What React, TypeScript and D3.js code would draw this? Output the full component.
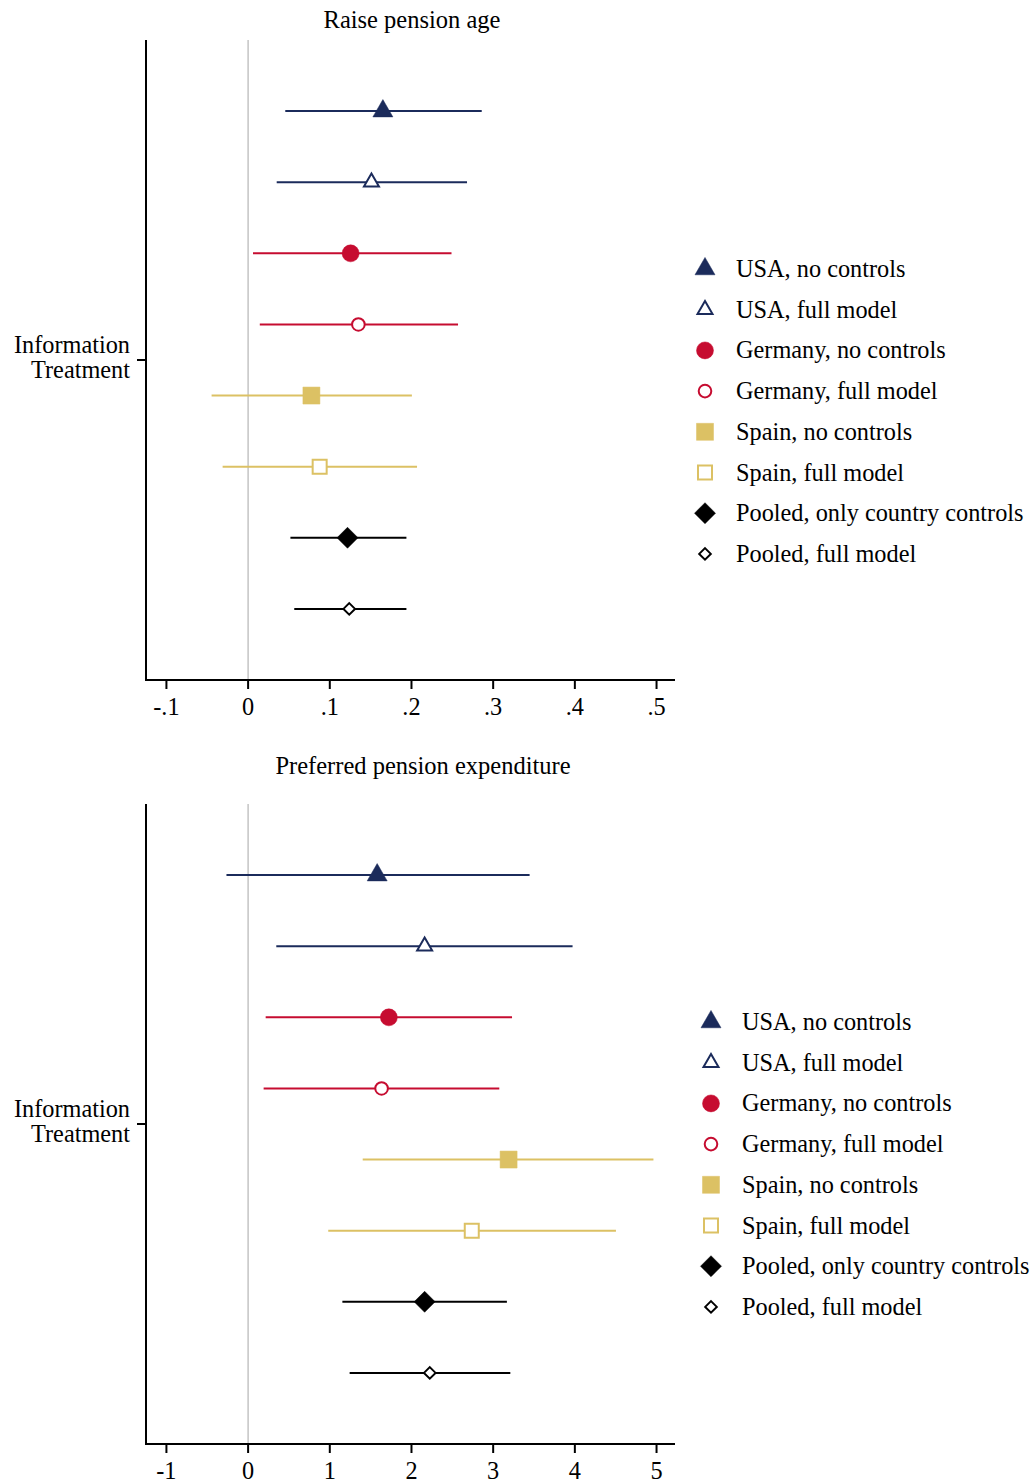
import React from "react";
import * as d3 from "d3";

const models = [
  "USA, no controls",
  "USA, full model",
  "Germany, no controls",
  "Germany, full model",
  "Spain, no controls",
  "Spain, full model",
  "Pooled, only country controls",
  "Pooled, full model",
];
const shapes = ["triangle", "triangle", "circle", "circle", "square", "square", "diamond", "diamond"];
const filled = [true, false, true, false, true, false, true, false];
const colors = ["#1b2b5b", "#1b2b5b", "#c60c30", "#c60c30", "#dcc164", "#dcc164", "#000000", "#000000"];

// Raise pension age
const ageEst = [0.165, 0.151, 0.1255, 0.135, 0.0775, 0.0876, 0.1217, 0.1238];
const ageLo = [0.0455, 0.035, 0.006, 0.0143, -0.0447, -0.0312, 0.0518, 0.0565];
const ageHi = [0.286, 0.268, 0.249, 0.257, 0.2005, 0.2068, 0.1938, 0.1938];
const ageTicks = [-0.1, 0, 0.1, 0.2, 0.3, 0.4, 0.5];
const ageTickLabels = ["-.1", "0", ".1", ".2", ".3", ".4", ".5"];

// Preferred pension expenditure
const expEst = [1.58, 2.161, 1.723, 1.634, 3.189, 2.738, 2.161, 2.224];
const expLo = [-0.265, 0.345, 0.215, 0.19, 1.403, 0.981, 1.154, 1.243];
const expHi = [3.446, 3.972, 3.231, 3.075, 4.962, 4.503, 3.168, 3.21];
const expTicks = [-1, 0, 1, 2, 3, 4, 5];
const expTickLabels = ["-1", "0", "1", "2", "3", "4", "5"];

const FONT = "'Liberation Serif', 'Times New Roman', serif";
const FS = 24.3;

function markerPath(shape: string, big: boolean): string {
  if (shape === "triangle") {
    const s = big ? 20 : 15;
    const h = (s * Math.sqrt(3)) / 2;
    return `M0,${-(2 * h) / 3}L${s / 2},${h / 3}L${-s / 2},${h / 3}Z`;
  }
  if (shape === "circle") {
    const r = big ? 8.5 : 6.3;
    return `M${r},0A${r},${r},0,1,1,${-r},0A${r},${r},0,1,1,${r},0Z`;
  }
  if (shape === "square") {
    const a = big ? 8.5 : 7;
    return `M${-a},${-a}L${a},${-a}L${a},${a}L${-a},${a}Z`;
  }
  const d = big ? 10.5 : 5.8;
  return `M0,${-d}L${d},0L0,${d}L${-d},0Z`;
}

function Marker({ i, x, y }: { i: number; x: number; y: number }) {
  const f = filled[i];
  return (
    <path
      d={markerPath(shapes[i], f)}
      transform={`translate(${x},${y})`}
      fill={f ? colors[i] : "#fff"}
      stroke={colors[i]}
      strokeWidth={f ? 0.5 : 2}
    />
  );
}

type PanelProps = {
  top: number;
  titleX: number;
  titleY: number;
  title: string;
  est: number[];
  lo: number[];
  hi: number[];
  ticks: number[];
  tickLabels: string[];
  factor: number;
  legendX: number;
  legendY: number;
};

function Panel(p: PanelProps) {
  const plotTop = p.top;
  const plotBottom = p.top + 640;
  const x = d3.scaleLinear().domain([-0.125 * p.factor, 0.5226 * p.factor]).range([146, 675]);
  const y = d3.scaleLinear().domain([-1, 8]).range([plotTop, plotBottom]);
  const midY = y(3.5);
  const leg = d3.scaleLinear().domain([0, 1]).range([p.legendY, p.legendY + 40.7]);
  return (
    <g fontFamily={FONT} fill="#000">
      <text x={p.titleX} y={p.titleY} textAnchor="middle" fontSize={24.5}>
        {p.title}
      </text>
      {/* zero line */}
      <line x1={x(0)} x2={x(0)} y1={plotTop} y2={plotBottom} stroke="#c4c4c4" strokeWidth={1.5} />
      {/* CIs */}
      {models.map((m, i) => (
        <line
          key={"ci" + i}
          x1={x(p.lo[i])}
          x2={x(p.hi[i])}
          y1={y(i)}
          y2={y(i)}
          stroke={colors[i]}
          strokeWidth={2}
        />
      ))}
      {models.map((m, i) => (
        <Marker key={"mk" + i} i={i} x={x(p.est[i])} y={y(i)} />
      ))}
      {/* axes */}
      <line x1={146} x2={146} y1={plotTop} y2={plotBottom + 1} stroke="#000" strokeWidth={2} />
      <line x1={145} x2={675} y1={plotBottom} y2={plotBottom} stroke="#000" strokeWidth={2} />
      <line x1={137} x2={146} y1={midY} y2={midY} stroke="#000" strokeWidth={2} />
      <text x={130} y={midY - 7} textAnchor="end" fontSize={FS}>
        Information
      </text>
      <text x={130} y={midY + 18} textAnchor="end" fontSize={FS}>
        Treatment
      </text>
      {p.ticks.map((t, k) => (
        <g key={"t" + k}>
          <line x1={x(t)} x2={x(t)} y1={plotBottom} y2={plotBottom + 9} stroke="#000" strokeWidth={2} />
          <text x={x(t)} y={plotBottom + 35} textAnchor="middle" fontSize={FS}>
            {p.tickLabels[k]}
          </text>
        </g>
      ))}
      {/* legend */}
      {models.map((m, i) => (
        <g key={"lg" + i}>
          <Marker i={i} x={p.legendX} y={leg(i)} />
          <text x={p.legendX + 31} y={leg(i) + 8} fontSize={FS}>
            {m}
          </text>
        </g>
      ))}
    </g>
  );
}

export default function App() {
  return (
    <svg
      width={1033}
      height={1484}
      style={{ position: "absolute", left: 0, top: 0, background: "#fff" }}
    >
      <rect width={1033} height={1484} fill="#fff" />
      <Panel
        top={40}
        titleX={412}
        titleY={28}
        title="Raise pension age"
        est={ageEst}
        lo={ageLo}
        hi={ageHi}
        ticks={ageTicks}
        tickLabels={ageTickLabels}
        factor={1}
        legendX={705}
        legendY={269}
      />
      <Panel
        top={804}
        titleX={423}
        titleY={774}
        title="Preferred pension expenditure"
        est={expEst}
        lo={expLo}
        hi={expHi}
        ticks={expTicks}
        tickLabels={expTickLabels}
        factor={10}
        legendX={711}
        legendY={1022}
      />
    </svg>
  );
}
